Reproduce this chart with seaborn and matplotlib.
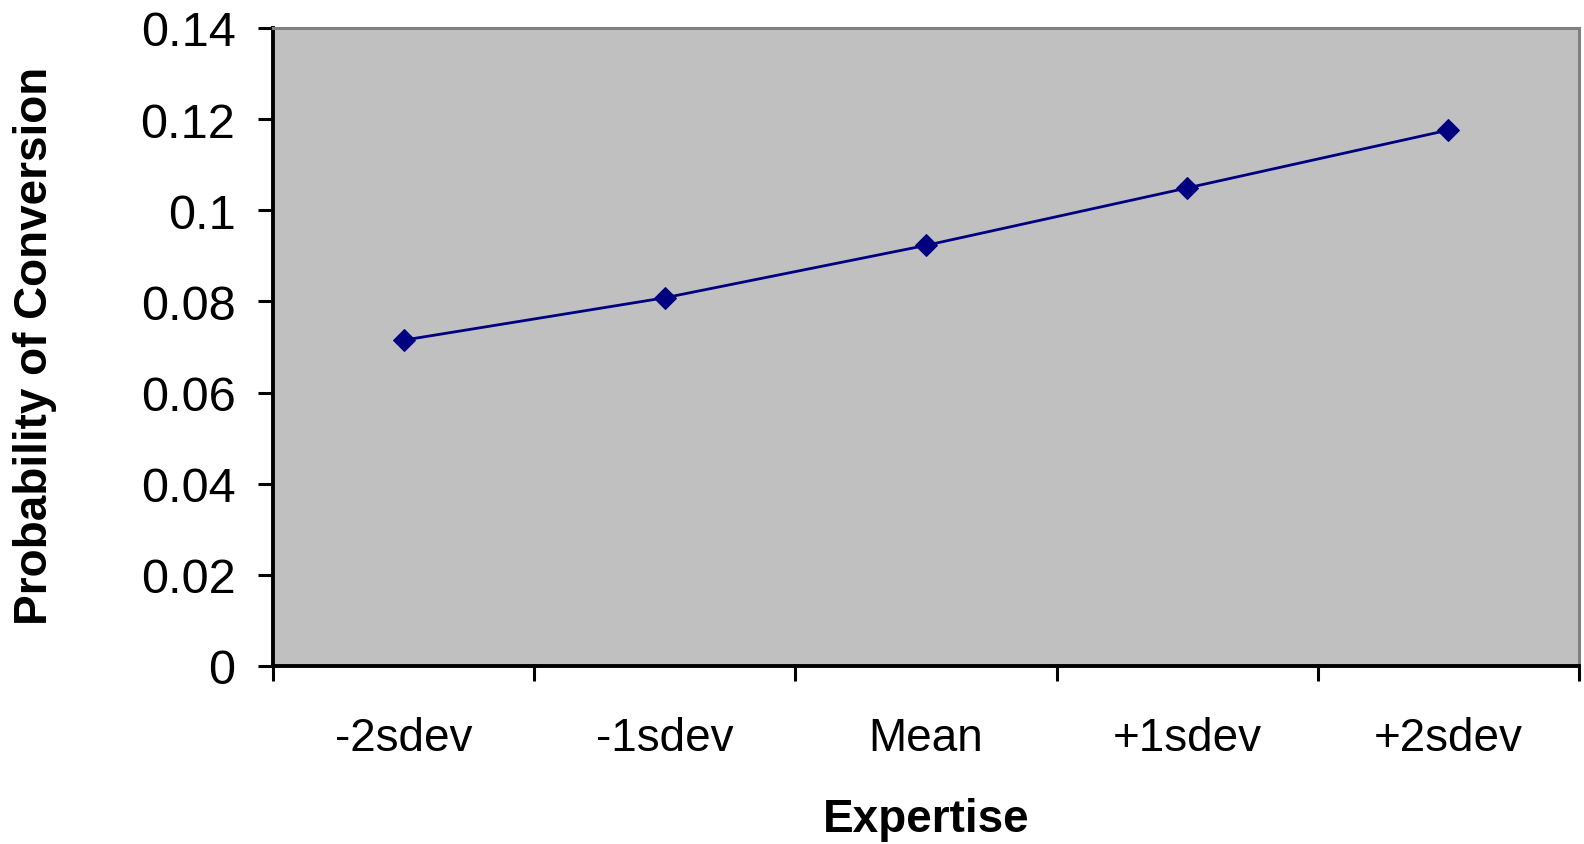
import matplotlib
matplotlib.use("Agg")
import matplotlib.pyplot as plt
import seaborn as sns
import pandas as pd

# Predicted probability of conversion at levels of expertise
levels = ["-2sdev", "-1sdev", "Mean", "+1sdev", "+2sdev"]
probability = [0.0715, 0.0808, 0.0923, 0.1049, 0.1176]
y_ticks = [0, 0.02, 0.04, 0.06, 0.08, 0.1, 0.12, 0.14]
y_tick_labels = ["0", "0.02", "0.04", "0.06", "0.08", "0.1", "0.12", "0.14"]

sns.set_style("white")
plt.rcParams["font.family"] = ["Liberation Sans", "DejaVu Sans"]
plt.rcParams["text.color"] = "black"
plt.rcParams["xtick.color"] = "black"
plt.rcParams["ytick.color"] = "black"

df = pd.DataFrame({"level": levels, "prob": probability, "pos": range(len(levels))})

fig = plt.figure(figsize=(15.84, 8.45), dpi=100)
ax = fig.add_axes([273 / 1584, 1 - 667 / 845, (1579 - 273) / 1584, (667 - 29) / 845])
ax.set_facecolor("#C0C0C0")

sns.lineplot(data=df, x="pos", y="prob", ax=ax, color="#000080", linewidth=2.0,
             marker="D", markersize=11, markeredgecolor="#000080", markerfacecolor="#000080")

ax.set_xlim(-0.5, len(levels) - 0.5)
ax.set_ylim(0, 0.14)

# category boundaries carry the tick marks; labels sit at category centres
ax.set_xticks([i - 0.5 for i in range(len(levels) + 1)])
ax.set_xticklabels([])
ax.set_xticks(range(len(levels)), minor=True)
ax.set_xticklabels(levels, minor=True, fontsize=33)
ax.tick_params(axis="x", which="major", direction="out", length=11, width=2.2, color="black", bottom=True)
ax.tick_params(axis="x", which="minor", length=0, pad=36)

ax.set_yticks(y_ticks)
ax.set_yticklabels(y_tick_labels, fontsize=35)
ax.tick_params(axis="y", direction="out", length=11, width=2.2, color="black", pad=16, left=True)

for side in ("left", "bottom"):
    ax.spines[side].set_color("black")
    ax.spines[side].set_linewidth(2.8)
for side in ("top", "right"):
    ax.spines[side].set_visible(True)
    ax.spines[side].set_color("#808080")
    ax.spines[side].set_linewidth(2.2)

ax.set_xlabel("")
ax.set_ylabel("")
fig.text(926 / 1584, 1 - 820 / 845, "Expertise", ha="center", va="center",
         fontsize=33, fontweight="bold")
fig.text(35 / 1584, 1 - 346 / 845, "Probability of Conversion", ha="center", va="center",
         rotation=90, fontsize=33, fontweight="bold")

fig.savefig("out.png", dpi=100, facecolor="white")
